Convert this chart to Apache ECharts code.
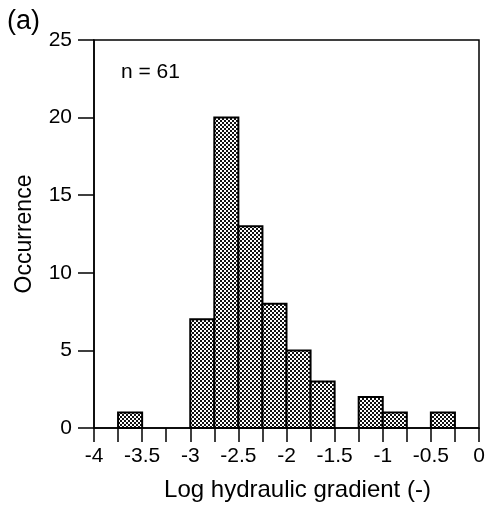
<!DOCTYPE html>
<html>
<head>
<meta charset="utf-8">
<script src="https://cdn.jsdelivr.net/npm/echarts@6/dist/echarts.min.js"></script>
<style>
html, body { margin: 0; padding: 0; background: #fff; }
#chart { width: 491px; height: 508px; }
</style>
</head>
<body>
<div id="chart"></div>
<script>
// histogram bins (left edge, log units) and counts
var binLeft = [-3.75, -3.0, -2.75, -2.5, -2.25, -2.0, -1.75, -1.25, -1.0, -0.5];
var counts = [1, 7, 20, 13, 8, 5, 3, 2, 1, 1];
var binWidth = 0.25;

var FONT = '"Liberation Sans", Arial, sans-serif';

// dotted screen fill like the printed figure
function dotPattern() {
	var cv = document.createElement('canvas');
	cv.width = 4; cv.height = 4;
	var ctx = cv.getContext('2d');
	ctx.fillStyle = '#fff';
	ctx.fillRect(0, 0, 4, 4);
	ctx.fillStyle = '#111';
	ctx.fillRect(0, 0, 2, 2);
	ctx.fillRect(2, 2, 2, 2);
	return cv;
}
var pattern = { image: dotPattern(), repeat: 'repeat' };

var data = binLeft.map(function (x, i) { return [x, x + binWidth, counts[i]]; });

var chart = echarts.init(document.getElementById('chart'));
chart.setOption({
	animation: false,
	grid: {
		left: 94, right: 12, top: 40, bottom: 80,
		show: true, borderColor: '#000', borderWidth: 1.5
	},
	xAxis: {
		type: 'value', min: -4, max: 0, interval: 0.5,
		name: 'Log hydraulic gradient (-)',
		nameLocation: 'middle', nameGap: 50,
		nameTextStyle: { fontFamily: FONT, fontSize: 24, color: '#000', padding: [0, 0, 0, 22] },
		axisLine: { onZero: false, lineStyle: { color: '#000', width: 1.5 } },
		axisTick: { length: 14, lineStyle: { color: '#000', width: 1.5 } },
		minorTick: { show: true, splitNumber: 2, length: 14, lineStyle: { color: '#000', width: 1.5 } },
		splitLine: { show: false },
		axisLabel: { fontFamily: FONT, fontSize: 21, color: '#000', margin: 18 }
	},
	yAxis: {
		type: 'value', min: 0, max: 25, interval: 5,
		name: 'Occurrence',
		nameLocation: 'middle', nameGap: 58,
		nameTextStyle: { fontFamily: FONT, fontSize: 23, color: '#000' },
		axisLine: { show: true, onZero: false, lineStyle: { color: '#000', width: 1.5 } },
		axisTick: { show: true, length: 16, lineStyle: { color: '#000', width: 1.5 } },
		splitLine: { show: false },
		axisLabel: { fontFamily: FONT, fontSize: 21, color: '#000', margin: 22 }
	},
	graphic: [
		{ type: 'text', left: 7, top: 8, style: { text: '(a)', font: '27px ' + FONT, fill: '#000' } },
		{ type: 'text', left: 121, top: 62, style: { text: 'n = 61', font: '21px ' + FONT, fill: '#000' } }
	],
	series: [{
		type: 'custom',
		data: data,
		encode: { x: [0, 1], y: 2 },
		renderItem: function (params, api) {
			var p0 = api.coord([api.value(0), 0]);
			var p1 = api.coord([api.value(1), api.value(2)]);
			return {
				type: 'rect',
				shape: { x: p0[0], y: p1[1], width: p1[0] - p0[0], height: p0[1] - p1[1] },
				style: { fill: pattern, stroke: '#000', lineWidth: 2 }
			};
		}
	}]
});
</script>
</body>
</html>
